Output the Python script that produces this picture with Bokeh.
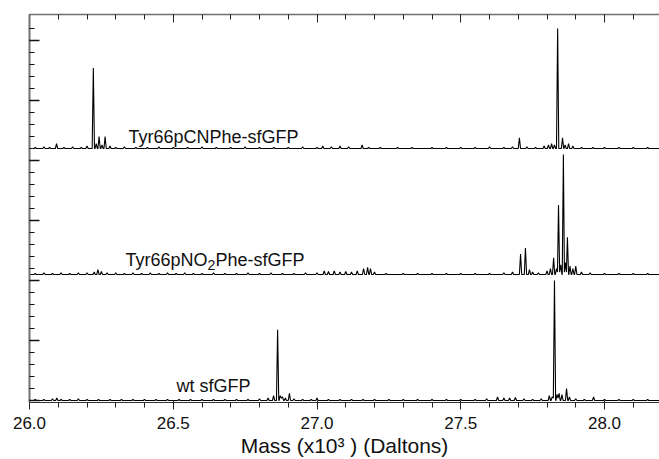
from bokeh.plotting import figure
from bokeh.models import Range1d, LinearAxis, FixedTicker, Label, ColumnDataSource, CustomJSTickFormatter
from bokeh.embed import file_html
from bokeh.resources import INLINE

# ---------------- data (mass in x10^3 Da, relative intensity in %) ----------------
CN_MASS = [26.02, 26.05, 26.07, 26.094, 26.12, 26.15, 26.18, 26.20, 26.222, 26.232,
           26.242, 26.252, 26.263, 26.28, 26.30, 26.33, 26.37, 26.41, 26.45, 26.50,
           26.55, 26.60, 26.65, 26.70, 26.75, 26.80, 26.85, 26.90, 26.95, 27.00,
           27.02, 27.05, 27.08, 27.11, 27.157, 27.18, 27.22, 27.28, 27.33, 27.40,
           27.45, 27.50, 27.55, 27.60, 27.65, 27.68, 27.704, 27.73, 27.76, 27.79,
           27.805, 27.816, 27.826, 27.837, 27.854, 27.863, 27.875, 27.89, 27.92, 27.96,
           28.00, 28.05, 28.10, 28.15]
CN_INT = [1, 1.5, 1, 4, 1, 1.5, 1, 2, 67, 4,
          10, 3, 10, 2, 1, 1.5, 1, 1, 1.5, 1,
          1, 1.5, 1, 1, 1.5, 1, 1, 1, 1.5, 1,
          2, 1.5, 2, 1.5, 3, 1, 1, 1, 1, 1,
          1, 1, 1, 1.5, 1, 1.5, 9, 1.5, 1, 2,
          3, 4, 3, 100, 9, 3, 4, 2, 1, 1,
          1, 1, 1, 1]

NO2_MASS = [26.02, 26.05, 26.08, 26.11, 26.14, 26.17, 26.20, 26.225, 26.238, 26.25,
            26.27, 26.30, 26.33, 26.36, 26.39, 26.42, 26.45, 26.48, 26.51, 26.54,
            26.57, 26.60, 26.64, 26.68, 26.72, 26.76, 26.80, 26.84, 26.88, 26.92,
            26.96, 27.00, 27.025, 27.04, 27.06, 27.08, 27.10, 27.12, 27.14, 27.162,
            27.176, 27.186, 27.20, 27.24, 27.30, 27.35, 27.40, 27.45, 27.50, 27.55,
            27.60, 27.65, 27.68, 27.708, 27.725, 27.739, 27.75, 27.77, 27.80, 27.812,
            27.823, 27.833, 27.840, 27.848, 27.857, 27.864, 27.871, 27.880, 27.890, 27.900,
            27.92, 27.95, 28.00, 28.05, 28.10, 28.15]
NO2_INT = [1, 1.5, 1, 1.5, 1, 1.5, 1.5, 2, 4, 2.5,
           1.5, 1.5, 1, 1.5, 1, 1.5, 1, 1.5, 1, 1.5,
           1, 1, 1.5, 1, 1, 1.5, 1, 1.5, 1, 1,
           1.5, 1.5, 3, 2.5, 3, 2, 2.5, 2, 3, 5,
           6, 5, 2, 1, 1, 1, 1, 1, 1, 1,
           1, 1.5, 2, 17, 22, 4, 2, 1.5, 3, 5,
           14, 5, 58, 8, 100, 10, 31, 7, 5, 7,
           2, 1.5, 1, 1, 1, 1]

WT_MASS = [26.02, 26.05, 26.08, 26.095, 26.11, 26.14, 26.17, 26.20, 26.24, 26.28,
           26.32, 26.36, 26.40, 26.44, 26.48, 26.52, 26.56, 26.60, 26.64, 26.68,
           26.72, 26.76, 26.80, 26.83, 26.849, 26.863, 26.872, 26.880, 26.890, 26.904,
           26.92, 26.95, 26.98, 27.00, 27.04, 27.08, 27.12, 27.16, 27.20, 27.25,
           27.30, 27.35, 27.40, 27.45, 27.50, 27.55, 27.59, 27.628, 27.65, 27.67,
           27.69, 27.72, 27.75, 27.78, 27.808, 27.818, 27.826, 27.835, 27.842, 27.852,
           27.868, 27.878, 27.90, 27.93, 27.962, 28.00, 28.05, 28.10, 28.15]
WT_INT = [1, 1, 1.5, 2, 1, 1, 1.5, 1, 1, 1,
          1, 1, 1, 1, 1, 1, 1, 1, 1, 1,
          1, 1, 1.5, 2, 4, 59, 4, 3, 2, 6,
          1.5, 1, 1, 2, 1, 1, 1, 1, 1, 1,
          1, 1, 1, 1, 1, 1, 1.5, 3, 2, 2,
          2.5, 1.5, 1, 1.5, 4, 3, 100, 5, 6, 5,
          10, 3, 1.5, 1, 3, 1, 1, 1, 1]

LABEL_CN = "Tyr66pCNPhe-sfGFP"
LABEL_NO2 = ["Tyr66pNO", "2", "Phe-sfGFP"]
LABEL_WT = "wt sfGFP"

X_MAJOR = [26.0, 26.5, 27.0, 27.5, 28.0]
X_TICK_LABELS = ["26.0", "26.5", "27.0", "27.5", "28.0"]
X_MINOR = [26.0, 26.1, 26.2, 26.3, 26.4, 26.5, 26.6, 26.7, 26.8, 26.9, 27.0,
           27.1, 27.2, 27.3, 27.4, 27.5, 27.6, 27.7, 27.8, 27.9, 28.0, 28.1]
Y_MAJOR = [0, 50, 100, 150, 200, 250, 300]
Y_MINOR = [0, 10, 20, 30, 40, 50, 60, 70, 80, 90, 100, 110, 120, 130, 140, 150, 160,
           170, 180, 190, 200, 210, 220, 230, 240, 250, 260, 270, 280, 290, 300, 310]

# ---------------- styles ----------------
X0, X1 = 26.0, 28.1913
HW = 0.004      # half width of a peak spike (x10^3 Da)
VALLEY = 2.0
FONT = "Liberation Sans"


def trace(masses, heights):
    pts = sorted(zip(masses, heights))
    xs, ys = [X0], [0.0]
    n = len(pts)
    for i, (m, h) in enumerate(pts):
        if i == 0 or m - pts[i - 1][0] >= 2 * HW:
            xs.append(m - HW); ys.append(0.0)
        xs.append(m); ys.append(h)
        if i == n - 1 or pts[i + 1][0] - m >= 2 * HW:
            xs.append(m + HW); ys.append(0.0)
        else:
            xs.append((m + pts[i + 1][0]) / 2); ys.append(VALLEY)
    xs.append(X1); ys.append(0.0)
    return ColumnDataSource(dict(x=xs, y=ys))


p = figure(frame_width=630, frame_height=388,
           x_range=Range1d(X0, X1), y_range=Range1d(-1.667, 321.667),
           output_backend="svg", toolbar_location=None,
           min_border_left=29, min_border_right=0, min_border_top=14, min_border_bottom=57)
p.extra_y_ranges = {"mid": Range1d(-106.667, 216.667), "top": Range1d(-211.667, 111.667)}
p.grid.visible = False
p.outline_line_color = None
p.background_fill_color = "white"
p.border_fill_color = "white"

# spectra
p.line("x", "y", source=trace(WT_MASS, WT_INT), line_color="black", line_width=1.1)
p.line("x", "y", source=trace(NO2_MASS, NO2_INT), line_color="black", line_width=1.1,
       y_range_name="mid")
p.line("x", "y", source=trace(CN_MASS, CN_INT), line_color="black", line_width=1.1,
       y_range_name="top")

# bottom axis
xa = p.xaxis[0]
xa.ticker = FixedTicker(ticks=X_MAJOR, minor_ticks=X_MINOR)
xa.major_label_overrides = {v: s for v, s in zip(X_MAJOR, X_TICK_LABELS)}
xa.axis_label = "Mass (x10³ ) (Daltons)"
xa.axis_label_text_font = FONT
xa.axis_label_text_font_size = "21px"
xa.axis_label_text_font_style = "normal"
xa.axis_label_text_color = "#111111"
xa.axis_label_standoff = 2
xa.major_label_text_font = FONT
xa.major_label_text_font_size = "17px"
xa.major_label_text_color = "#111111"
xa.major_label_standoff = 7
xa.axis_line_color = "#333333"
xa.axis_line_width = 1.2
xa.major_tick_in = 2
xa.major_tick_out = 7
xa.minor_tick_in = 0
xa.minor_tick_out = 5
xa.major_tick_line_color = "#222222"
xa.minor_tick_line_color = "#222222"

blank = CustomJSTickFormatter(code="return '';")

# top axis (ticks only)
ta = LinearAxis(ticker=FixedTicker(ticks=X_MAJOR, minor_ticks=X_MINOR), formatter=blank)
ta.major_label_standoff = 0
ta.axis_line_color = "#707070"
ta.axis_line_width = 1.5
ta.major_tick_in = 8
ta.major_tick_out = 0
ta.minor_tick_in = 5
ta.minor_tick_out = 0
ta.major_tick_line_color = "#222222"
ta.minor_tick_line_color = "#222222"
p.add_layout(ta, "above")

# left axis (ticks only)
ya = p.yaxis[0]
ya.ticker = FixedTicker(ticks=Y_MAJOR, minor_ticks=Y_MINOR)
ya.formatter = blank
ya.major_label_standoff = 0
ya.axis_line_color = "#707070"
ya.axis_line_width = 2
ya.major_tick_in = 10
ya.major_tick_out = 0
ya.minor_tick_in = 5
ya.minor_tick_out = 0
ya.major_tick_line_color = "#111111"
ya.minor_tick_line_color = "#111111"
ya.major_tick_line_width = 1.3
ya.minor_tick_line_width = 1.2

# annotations
lab_style = dict(text_font=FONT, text_font_size="18px", text_color="#111111",
                 text_baseline="alphabetic")
p.add_layout(Label(x=26.344, y=10, y_range_name="top", text=LABEL_CN, **lab_style))
p.add_layout(Label(x=26.334, y=11.7, y_range_name="mid", text=LABEL_NO2[0], **lab_style))
p.add_layout(Label(x=26.334, y=11.7, y_range_name="mid", text=LABEL_NO2[1], x_offset=82,
                   y_offset=-5, text_font=FONT, text_font_size="14px", text_color="#111111",
                   text_baseline="alphabetic"))
p.add_layout(Label(x=26.334, y=11.7, y_range_name="mid", text=LABEL_NO2[2], x_offset=90,
                   **lab_style))
p.add_layout(Label(x=26.511, y=11.7, text=LABEL_WT, **lab_style))

open("out.html", "w").write(file_html(p, INLINE))
